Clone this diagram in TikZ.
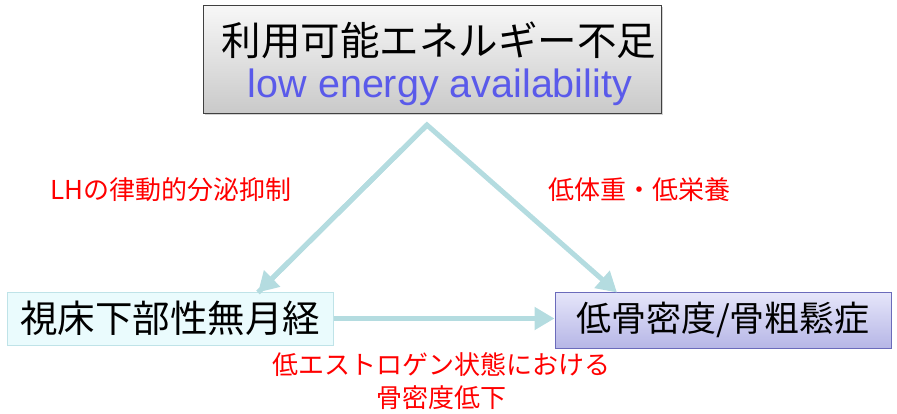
\documentclass[tikz,border=0pt]{standalone}
\usepackage{fontspec}
\setmainfont{Noto Sans CJK JP}
\newfontfamily\latinfont{Liberation Sans}
\usetikzlibrary{arrows.meta,shadows,calc}
\definecolor{arrowc}{HTML}{B4DCE0}
\definecolor{bluetxt}{HTML}{5A5AEA}
\definecolor{redtxt}{HTML}{FF0000}
\definecolor{topbord}{HTML}{404040}
\definecolor{lfill}{HTML}{EAFBFD}
\definecolor{lbord}{HTML}{BFE3E8}
\definecolor{rtop}{HTML}{E6E6FA}
\definecolor{rbot}{HTML}{B6B6E6}
\definecolor{rbord}{HTML}{6B6BBB}
\tikzset{
  topbox/.style={draw=topbord, line width=1pt, top color=gray!6, bottom color=gray!42,
    minimum width=458pt, minimum height=108pt, inner sep=0pt,
    drop shadow={shadow xshift=1.5pt, shadow yshift=-1.5pt, opacity=0.35}},
  toptext/.style={inner sep=0pt, font=\fontsize{39.5}{47}\selectfont},
  leftbox/.style={draw=lbord, line width=1pt, fill=lfill, minimum width=326pt, minimum height=53pt,
    inner sep=0pt, font=\fontsize{37.5}{40}\selectfont},
  rightbox/.style={draw=rbord, line width=1pt, top color=rtop, bottom color=rbot, minimum width=336pt,
    minimum height=56pt, inner sep=0pt, font=\fontsize{35}{40}\selectfont},
  flow/.style={draw=arrowc, line width=5pt, -{Triangle[length=20pt,width=22pt]}},
  redlabel/.style={text=redtxt, font=\fontsize{26}{33}\selectfont, inner sep=0pt, align=center}
}
\begin{document}
\begin{tikzpicture}[x=1pt,y=-1pt]
\useasboundingbox (0,0) rectangle (897,413);
\node[topbox] (top) at (432,59) {};
\node[toptext] (topjp) at (439,40) {利用可能エネルギー不足};
\node[toptext, text=bluetxt, font=\latinfont\fontsize{39.5}{47}\selectfont] (topen) at (440,87) {low energy availability};
\node[leftbox] (lbox) at (170,318.5) {視床下部性無月経};
\node[rightbox] (rbox) at (723,320) {低骨密度/骨粗鬆症};
\coordinate (peak) at (427,125);
\draw[flow, line join=miter] ([xshift=88pt,yshift=-1pt]lbox.north) -- (peak) -- ([xshift=-106pt,yshift=-1pt]rbox.north);
\draw[flow] (peak) -- ([xshift=88pt,yshift=-1pt]lbox.north);
\draw[flow] (lbox.east) -- (rbox.west |- lbox.east);
\node[redlabel] (l1) at (171,190) {LHの律動的分泌抑制};
\node[redlabel] (l2) at (639,190) {低体重・低栄養};
\node[redlabel] (l3) at (441,381) {低エストロゲン状態における\\骨密度低下};
\end{tikzpicture}
\end{document}
